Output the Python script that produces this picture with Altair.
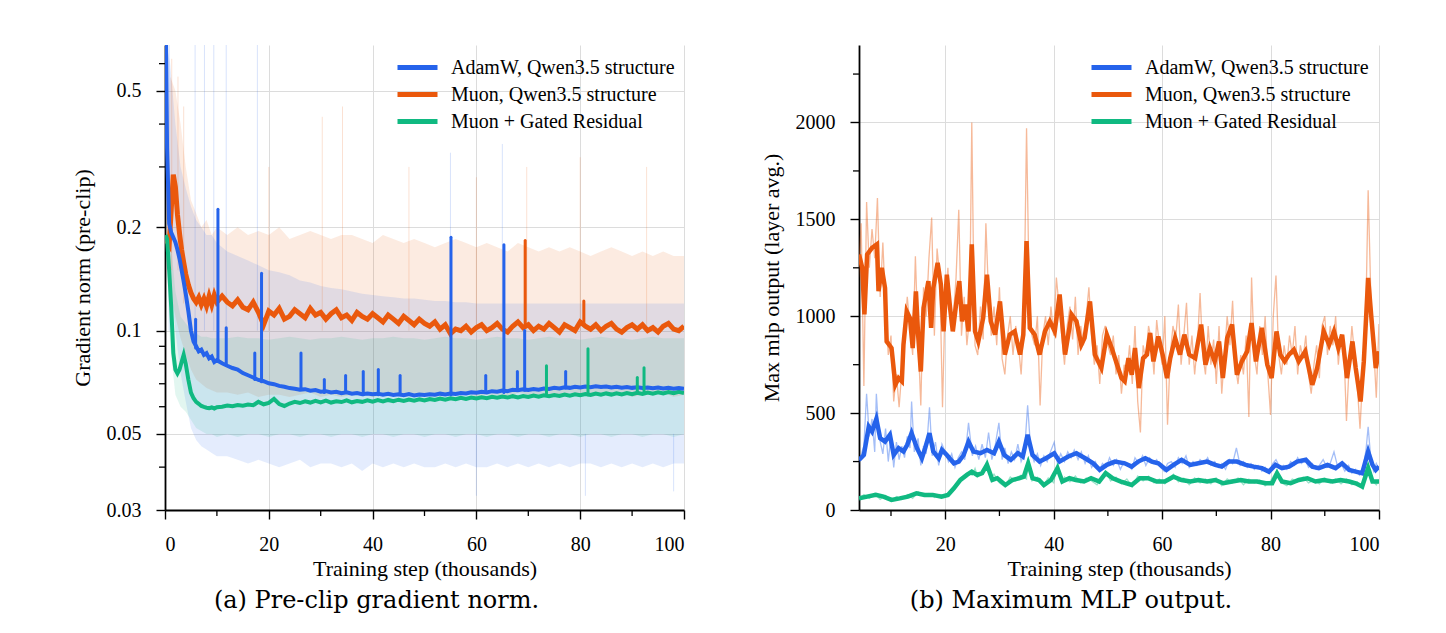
import altair as alt
import pandas as pd

SERIES = ["AdamW, Qwen3.5 structure", "Muon, Qwen3.5 structure", "Muon + Gated Residual"]
COLORS = ["#2563EB", "#EA580C", "#10B981"]

# ---------------- panel (a): pre-clip gradient norm (log scale) ----------------
A_STEP = [0.1, 0.4, 0.8, 1.2, 1.6, 2.0, 2.4, 2.8, 3.2, 3.6, 4.0, 4.5, 5.0, 5.5, 6.0, 6.5, 7.0, 7.5, 8.0, 8.5, 9.0, 9.5, 10.0,
          11, 12, 13, 14, 15, 16, 17, 18, 19, 20,
          21, 22, 23, 24, 25, 26, 27, 28, 29, 30,
          31, 32, 33, 34, 35, 36, 37, 38, 39, 40,
          41, 42, 43, 44, 45, 46, 47, 48, 49, 50,
          51, 52, 53, 54, 55, 56, 57, 58, 59, 60,
          61, 62, 63, 64, 65, 66, 67, 68, 69, 70,
          71, 72, 73, 74, 75, 76, 77, 78, 79, 80,
          81, 82, 83, 84, 85, 86, 87, 88, 89, 90,
          91, 92, 93, 94, 95, 96, 97, 98, 99, 100]

A_ADAMW = [0.95, 0.34, 0.205, 0.193, 0.187, 0.181, 0.172, 0.162, 0.150, 0.139, 0.128, 0.114, 0.100, 0.093, 0.090, 0.087, 0.088, 0.085, 0.086, 0.083, 0.084, 0.081, 0.082,
           0.0803, 0.0790, 0.0778, 0.0770, 0.0752, 0.0741, 0.0730, 0.0718, 0.0712, 0.0702,
           0.0698, 0.0690, 0.0686, 0.0680, 0.0677, 0.0673, 0.0675, 0.0668, 0.0671, 0.0664,
           0.0666, 0.0660, 0.0663, 0.0657, 0.0661, 0.0655, 0.0658, 0.0653, 0.0656, 0.0652,
           0.0655, 0.0650, 0.0654, 0.0649, 0.0652, 0.0648, 0.0653, 0.0647, 0.0651, 0.0649,
           0.0652, 0.0650, 0.0655, 0.0651, 0.0656, 0.0654, 0.0658, 0.0656, 0.0661, 0.0659,
           0.0663, 0.0660, 0.0666, 0.0664, 0.0669, 0.0666, 0.0672, 0.0670, 0.0674, 0.0671,
           0.0676, 0.0673, 0.0678, 0.0676, 0.0681, 0.0678, 0.0684, 0.0681, 0.0686, 0.0683,
           0.0687, 0.0684, 0.0688, 0.0685, 0.0687, 0.0683, 0.0686, 0.0682, 0.0685, 0.0681,
           0.0684, 0.0680, 0.0683, 0.0679, 0.0682, 0.0678, 0.0681, 0.0677, 0.0680, 0.0677]

A_MUON = [0.185, 0.182, 0.178, 0.225, 0.285, 0.262, 0.218, 0.192, 0.172, 0.158, 0.146, 0.136, 0.129, 0.124, 0.121, 0.125, 0.119, 0.124, 0.118, 0.126, 0.119, 0.127, 0.121,
          0.126, 0.121, 0.118, 0.123, 0.117, 0.115, 0.121, 0.113, 0.104, 0.114,
          0.111, 0.116, 0.108, 0.110, 0.115, 0.112, 0.109, 0.116, 0.111, 0.113,
          0.108, 0.112, 0.115, 0.109, 0.111, 0.107, 0.113, 0.110, 0.108, 0.112,
          0.109, 0.106, 0.111, 0.108, 0.105, 0.110, 0.107, 0.104, 0.108, 0.105,
          0.103, 0.106, 0.101, 0.104, 0.098, 0.101, 0.100, 0.103, 0.099, 0.102,
          0.104, 0.100, 0.102, 0.105, 0.101, 0.099, 0.103, 0.106, 0.102, 0.104,
          0.100, 0.103, 0.101, 0.105, 0.102, 0.099, 0.104, 0.102, 0.100, 0.106,
          0.103, 0.101, 0.104, 0.100, 0.103, 0.105, 0.101, 0.099, 0.102, 0.104,
          0.101, 0.104, 0.100, 0.102, 0.099, 0.103, 0.105, 0.101, 0.100, 0.103]

A_GATED = [0.19, 0.185, 0.15, 0.117, 0.086, 0.077, 0.075, 0.077, 0.081, 0.085, 0.080, 0.072, 0.066, 0.0635, 0.0620, 0.0612, 0.0603, 0.0599, 0.0596, 0.0594, 0.0597, 0.0593, 0.0598,
           0.0600, 0.0605, 0.0602, 0.0607, 0.0604, 0.0609, 0.0606, 0.0620, 0.0610, 0.0616,
           0.0632, 0.0611, 0.0603, 0.0613, 0.0620, 0.0615, 0.0622, 0.0617, 0.0624, 0.0618,
           0.0625, 0.0617, 0.0622, 0.0619, 0.0626, 0.0618, 0.0623, 0.0620, 0.0626, 0.0621,
           0.0627, 0.0622, 0.0628, 0.0623, 0.0629, 0.0624, 0.0630, 0.0625, 0.0631, 0.0626,
           0.0632, 0.0628, 0.0634, 0.0629, 0.0635, 0.0631, 0.0637, 0.0632, 0.0638, 0.0634,
           0.0639, 0.0635, 0.0641, 0.0637, 0.0642, 0.0638, 0.0644, 0.0639, 0.0645, 0.0641,
           0.0647, 0.0642, 0.0648, 0.0644, 0.0649, 0.0645, 0.0651, 0.0646, 0.0652, 0.0648,
           0.0653, 0.0649, 0.0655, 0.0650, 0.0656, 0.0651, 0.0657, 0.0652, 0.0658, 0.0653,
           0.0659, 0.0654, 0.0660, 0.0655, 0.0661, 0.0656, 0.0662, 0.0657, 0.0663, 0.0658]

# raw-noise envelopes (light shading behind the smoothed curves)
A_BAND_STEP = [0.3, 1, 2, 3, 4, 5, 6, 7, 8, 9, 10,
               12, 14, 16, 18, 20, 22, 24, 26, 28, 30,
               32, 34, 36, 38, 40, 42, 44, 46, 48, 50,
               52, 54, 56, 58, 60, 62, 64, 66, 68, 70,
               72, 74, 76, 78, 80, 82, 84, 86, 88, 90,
               92, 94, 96, 98, 100]
A_MUON_HI = [0.30, 0.55, 0.50, 0.40, 0.30, 0.24, 0.22, 0.20, 0.21, 0.19, 0.20,
             0.19, 0.20, 0.19, 0.195, 0.19, 0.20, 0.185, 0.19, 0.195, 0.19,
             0.185, 0.19, 0.19, 0.185, 0.18, 0.19, 0.185, 0.18, 0.185, 0.18,
             0.175, 0.18, 0.185, 0.18, 0.175, 0.18, 0.175, 0.17, 0.18, 0.175,
             0.17, 0.175, 0.17, 0.175, 0.17, 0.165, 0.17, 0.175, 0.17, 0.165,
             0.17, 0.165, 0.17, 0.165, 0.165]
A_MUON_LO = [0.16, 0.13, 0.11, 0.095, 0.085, 0.077, 0.072, 0.070, 0.068, 0.067, 0.066,
             0.066, 0.065, 0.066, 0.064, 0.065, 0.065, 0.064, 0.065, 0.066, 0.064,
             0.065, 0.064, 0.065, 0.065, 0.064, 0.065, 0.066, 0.064, 0.065, 0.065,
             0.064, 0.065, 0.065, 0.066, 0.064, 0.065, 0.065, 0.064, 0.066, 0.065,
             0.065, 0.064, 0.065, 0.066, 0.065, 0.064, 0.065, 0.065, 0.066, 0.064,
             0.065, 0.065, 0.066, 0.064, 0.065]
A_ADAMW_HI = [0.68, 0.60, 0.40, 0.30, 0.26, 0.23, 0.21, 0.20, 0.19, 0.19, 0.18,
              0.17, 0.165, 0.16, 0.155, 0.15, 0.148, 0.145, 0.14, 0.138, 0.135,
              0.133, 0.132, 0.13, 0.128, 0.127, 0.126, 0.125, 0.124, 0.124, 0.123,
              0.122, 0.122, 0.121, 0.121, 0.12, 0.12, 0.12, 0.12, 0.12, 0.12,
              0.12, 0.12, 0.12, 0.12, 0.12, 0.12, 0.12, 0.12, 0.12, 0.12,
              0.12, 0.12, 0.12, 0.12, 0.12]
A_ADAMW_LO = [0.30, 0.14, 0.10, 0.075, 0.062, 0.052, 0.048, 0.046, 0.045, 0.044, 0.043,
              0.043, 0.042, 0.041, 0.042, 0.041, 0.040, 0.041, 0.042, 0.040, 0.041,
              0.041, 0.040, 0.041, 0.039, 0.041, 0.040, 0.041, 0.040, 0.041, 0.040,
              0.040, 0.041, 0.040, 0.041, 0.040, 0.040, 0.041, 0.040, 0.041, 0.040,
              0.041, 0.040, 0.041, 0.040, 0.041, 0.041, 0.040, 0.041, 0.040, 0.041,
              0.040, 0.041, 0.040, 0.041, 0.041]
A_GATED_HI = [0.20, 0.19, 0.13, 0.11, 0.105, 0.10, 0.098, 0.096, 0.096, 0.095, 0.095,
              0.095, 0.096, 0.095, 0.095, 0.094, 0.095, 0.096, 0.095, 0.094, 0.095,
              0.095, 0.096, 0.095, 0.094, 0.095, 0.095, 0.096, 0.095, 0.095, 0.094,
              0.095, 0.096, 0.095, 0.095, 0.094, 0.095, 0.096, 0.095, 0.095, 0.094,
              0.095, 0.096, 0.095, 0.095, 0.094, 0.095, 0.096, 0.095, 0.095, 0.094,
              0.095, 0.096, 0.095, 0.095, 0.095]
A_GATED_LO = [0.17, 0.09, 0.065, 0.060, 0.058, 0.055, 0.052, 0.051, 0.050, 0.050, 0.049,
              0.050, 0.049, 0.050, 0.050, 0.049, 0.050, 0.050, 0.049, 0.050, 0.050,
              0.049, 0.050, 0.050, 0.049, 0.050, 0.050, 0.049, 0.050, 0.050, 0.049,
              0.050, 0.050, 0.049, 0.050, 0.050, 0.049, 0.050, 0.050, 0.049, 0.050,
              0.050, 0.049, 0.050, 0.050, 0.049, 0.050, 0.050, 0.049, 0.050, 0.050,
              0.049, 0.050, 0.050, 0.049, 0.050]

# isolated spikes on the smoothed curves: (step, base, peak)
A_ADAMW_SPIKES = [(5.9, 0.089, 0.108), (10.2, 0.082, 0.226), (11.8, 0.080, 0.102), (17.3, 0.072, 0.086),
                  (18.6, 0.071, 0.147), (26.2, 0.068, 0.086), (30.7, 0.066, 0.072), (34.8, 0.066, 0.074),
                  (38.2, 0.065, 0.076), (41.1, 0.065, 0.077), (45.3, 0.065, 0.074), (55.1, 0.065, 0.187),
                  (61.8, 0.066, 0.074), (65.3, 0.066, 0.178), (67.9, 0.067, 0.076), (69.3, 0.067, 0.100),
                  (77.2, 0.068, 0.076)]
A_MUON_SPIKES = [(69.4, 0.104, 0.183), (80.7, 0.104, 0.122)]
A_GATED_SPIKES = [(73.5, 0.065, 0.079), (81.5, 0.065, 0.0886), (91.0, 0.066, 0.073), (92.3, 0.066, 0.078)]

# faint raw outliers: (step, low, high)
A_MUON_RAW_OUT = [(1.3, 0.15, 0.62), (2.5, 0.15, 0.55), (3.6, 0.12, 0.45), (20.0, 0.1, 0.30), (30.3, 0.1, 0.42),
                  (34.2, 0.1, 0.45), (47.0, 0.1, 0.30), (60.0, 0.1, 0.28), (69.7, 0.1, 0.30), (80.0, 0.1, 0.32),
                  (92.8, 0.1, 0.30)]
A_ADAMW_RAW_OUT = [(0.8, 0.1, 0.68), (5.8, 0.1, 0.68), (7.6, 0.1, 0.68), (9.4, 0.1, 0.68), (11.8, 0.1, 0.68),
                   (17.8, 0.1, 0.68), (55.0, 0.1, 0.33), (65.0, 0.1, 0.35), (60.0, 0.033, 0.05),
                   (81.0, 0.033, 0.05), (98.0, 0.034, 0.05)]

# ---------------- panel (b): maximum MLP output ----------------
B_MUON = [(4.1, 1319), (4.7, 1250), (5.1, 1009), (5.6, 1319), (6.5, 1353), (7.4, 1371), (7.7, 1129), (8.3, 1250),
          (8.9, 1146), (9.2, 870), (10.1, 836), (10.8, 646), (11.4, 681), (12.0, 664), (12.3, 853), (12.9, 1026),
          (13.5, 991), (14.0, 836), (14.6, 1129), (15.0, 905), (15.5, 715), (16.0, 1043), (16.9, 1181), (17.4, 940),
          (17.8, 1146), (18.6, 1276), (19.2, 1164), (19.7, 922), (20.3, 1215), (20.9, 1043), (21.4, 922), (22.0, 1060),
          (22.6, 1181), (23.1, 974), (23.7, 1060), (24.3, 922), (24.9, 1371), (25.5, 922), (26.1, 870), (27.0, 991),
          (27.7, 1215), (28.4, 974), (29.2, 905), (30.1, 1077), (31.0, 802), (31.9, 905), (32.8, 922), (33.8, 802),
          (34.4, 905), (35.0, 1388), (35.6, 940), (36.5, 905), (37.4, 802), (38.4, 922), (39.3, 974), (40.2, 922),
          (41.1, 1112), (42.1, 802), (43.3, 1009), (44.2, 974), (45.1, 853), (45.7, 888), (46.7, 1077), (47.6, 802),
          (48.8, 733), (49.8, 905), (50.7, 836), (51.7, 750), (52.5, 681), (53.1, 664), (53.8, 784), (54.4, 698),
          (55.0, 836), (55.7, 629), (56.5, 784), (57.2, 802), (57.8, 914), (58.4, 767), (59.3, 896), (60.1, 802),
          (60.9, 681), (61.5, 784), (62.4, 888), (63.3, 802), (64.1, 905), (65.0, 802), (66.1, 784), (67.2, 957),
          (68.0, 750), (68.8, 836), (69.7, 767), (70.5, 870), (71.2, 681), (72.0, 888), (72.9, 957), (73.8, 698),
          (74.7, 767), (75.7, 819), (76.5, 965), (77.3, 767), (78.4, 940), (79.4, 750), (80.2, 681), (81.1, 922),
          (81.8, 802), (82.6, 767), (83.4, 802), (84.3, 827), (85.2, 767), (86.4, 819), (87.7, 646), (88.6, 733),
          (89.8, 922), (90.8, 853), (91.7, 922), (92.5, 836), (93.2, 905), (94.1, 681), (95.1, 870), (95.7, 733),
          (96.6, 560), (97.2, 767), (98.0, 1198), (98.6, 991), (99.4, 733), (100.0, 819)]

B_ADAMW = [(4.1, 259), (5.0, 284), (5.9, 430), (6.5, 405), (7.3, 470), (8.0, 371), (8.9, 353), (9.8, 388),
           (10.5, 284), (11.4, 319), (12.3, 302), (13.0, 336), (13.8, 397), (14.8, 319), (15.7, 267), (16.3, 319),
           (17.1, 397), (17.8, 302), (18.8, 267), (19.4, 310), (20.3, 284), (21.6, 241), (22.5, 250), (23.4, 284),
           (24.3, 353), (25.2, 302), (26.5, 293), (27.7, 310), (29.0, 293), (29.9, 353), (30.9, 284), (32.1, 259),
           (33.4, 293), (34.3, 276), (35.2, 388), (36.1, 284), (37.4, 250), (38.6, 267), (40.1, 293), (41.1, 250),
           (42.7, 276), (44.2, 293), (45.8, 267), (47.3, 241), (48.5, 207), (49.8, 233), (51.3, 250), (53.1, 241),
           (54.4, 224), (55.6, 250), (56.9, 267), (58.1, 250), (59.3, 241), (60.8, 207), (62.1, 233), (63.6, 259),
           (65.2, 233), (66.7, 241), (68.3, 250), (69.8, 233), (71.0, 224), (72.3, 250), (73.8, 250), (75.4, 233),
           (76.9, 224), (78.4, 216), (79.7, 198), (80.9, 233), (82.1, 216), (83.4, 224), (84.9, 250), (86.5, 259),
           (87.7, 224), (88.9, 216), (90.5, 233), (92.0, 216), (93.2, 241), (94.5, 207), (95.7, 198), (96.9, 190),
           (98.0, 302), (98.8, 233), (99.4, 207), (100.0, 224)]

B_GATED = [(4.1, 60), (5.6, 69), (7.2, 78), (8.6, 69), (10.1, 52), (11.6, 60), (13.1, 69), (14.7, 86), (16.2, 78),
           (17.7, 78), (19.3, 69), (20.5, 78), (21.6, 112), (22.8, 155), (24.0, 181), (24.9, 198), (25.9, 181),
           (26.8, 190), (27.7, 233), (28.7, 155), (29.6, 164), (31.1, 129), (32.4, 155), (33.6, 164), (34.5, 172),
           (35.3, 241), (36.1, 164), (37.3, 155), (38.2, 129), (39.5, 155), (40.7, 216), (41.6, 147), (42.9, 164),
           (44.1, 155), (45.6, 147), (46.9, 164), (48.4, 147), (49.6, 190), (50.9, 164), (52.4, 147), (54.4, 129),
           (55.9, 164), (57.4, 164), (59.0, 147), (60.5, 147), (62.1, 172), (63.6, 155), (65.2, 147), (66.7, 155),
           (68.3, 147), (69.8, 155), (71.3, 138), (72.9, 147), (74.5, 155), (76.0, 147), (77.5, 147), (79.1, 138),
           (80.3, 138), (81.2, 190), (82.1, 147), (83.7, 138), (85.2, 155), (86.8, 164), (88.3, 147), (89.8, 155),
           (91.4, 147), (92.9, 155), (94.5, 147), (95.7, 138), (96.9, 121), (98.0, 216), (98.8, 147), (100.0, 147)]

B_MUON_RAW = [(4.0, 1200), (4.5, 1480), (5.0, 640), (5.5, 1590), (6.0, 1250), (6.5, 1450), (7.0, 1300), (7.5, 1610),
              (8.0, 1100), (8.5, 1380), (9.0, 1050), (9.5, 800), (10.0, 900), (10.5, 560), (11.0, 700), (11.5, 530),
              (12.0, 720), (12.5, 900), (13.0, 1100), (13.5, 950), (14.0, 800), (14.5, 1310), (15.0, 880), (15.5, 540),
              (16.0, 1150), (16.5, 1000), (17.0, 1300), (17.5, 1510), (18.0, 900), (18.5, 1350), (19.0, 1200), (19.5, 530),
              (20.0, 1100), (20.5, 1250), (21.0, 950), (21.5, 1000), (22.0, 1200), (22.5, 1550), (23.0, 900), (23.5, 1100),
              (24.0, 850), (24.5, 1000), (24.9, 2000), (25.3, 1100), (25.5, 850), (26.0, 800), (26.5, 1050), (27.0, 880),
              (27.5, 1480), (28.0, 1100), (28.5, 900), (29.0, 1050), (29.5, 850), (30.0, 1150), (30.5, 780), (31.0, 700),
              (31.5, 900), (32.0, 1000), (32.5, 800), (33.0, 950), (33.5, 850), (34.0, 700), (34.5, 950), (35.0, 1970),
              (35.5, 1100), (36.0, 900), (36.5, 850), (37.0, 1000), (37.5, 540), (38.0, 900), (38.5, 1000), (39.0, 850),
              (39.5, 1050), (40.0, 900), (40.5, 1200), (41.0, 1050), (41.5, 900), (42.0, 750), (42.5, 950), (43.0, 1050),
              (43.5, 880), (44.0, 1100), (44.5, 800), (45.0, 950), (45.5, 850), (46.0, 1000), (46.5, 1150), (47.0, 900),
              (47.5, 750), (48.0, 850), (48.5, 650), (49.0, 900), (49.5, 950), (50.0, 850), (50.5, 800), (51.0, 900),
              (51.5, 700), (52.0, 800), (52.5, 600), (53.0, 750), (53.5, 700), (54.0, 850), (54.5, 650), (55.0, 950),
              (55.5, 560), (56.0, 400), (56.5, 850), (57.0, 780), (57.5, 950), (58.0, 880), (58.5, 700), (59.0, 980),
              (59.5, 850), (60.0, 750), (60.5, 1000), (61.0, 440), (61.5, 800), (62.0, 950), (62.5, 880), (63.0, 1060),
              (63.5, 750), (64.0, 900), (64.5, 1070), (65.0, 750), (65.5, 900), (66.0, 700), (66.5, 850), (67.0, 1120),
              (67.5, 800), (68.0, 700), (68.5, 950), (69.0, 750), (69.5, 880), (70.0, 650), (70.5, 950), (71.0, 600),
              (71.5, 800), (72.0, 1000), (72.5, 850), (73.0, 1080), (73.5, 750), (74.0, 650), (74.5, 800), (75.0, 700),
              (75.5, 900), (76.0, 480), (76.5, 1200), (77.0, 800), (77.5, 700), (78.0, 950), (78.5, 800), (79.0, 1000),
              (79.5, 700), (80.0, 490), (80.5, 1000), (81.0, 1210), (81.5, 800), (82.0, 700), (82.5, 850), (83.0, 750),
              (83.5, 900), (84.0, 800), (84.5, 950), (85.0, 700), (85.5, 850), (86.0, 780), (86.5, 900), (87.0, 700),
              (87.5, 600), (88.0, 750), (88.5, 850), (89.0, 680), (89.5, 950), (90.0, 1000), (90.5, 800), (91.0, 950),
              (91.5, 850), (92.0, 1000), (92.5, 750), (93.0, 900), (93.5, 850), (94.0, 460), (94.5, 750), (95.0, 950),
              (95.5, 800), (96.0, 640), (96.5, 420), (97.0, 700), (97.5, 900), (98.0, 1650), (98.5, 1100), (99.0, 850),
              (99.5, 580), (100.0, 960)]

B_ADAMW_RAW = [(4.0, 240), (5.0, 330), (5.5, 600), (6.0, 380), (6.5, 470), (7.0, 300), (7.3, 600), (7.8, 380),
               (8.5, 290), (9.0, 420), (9.5, 250), (10.0, 390), (10.5, 220), (11.0, 350), (11.5, 260), (12.0, 330),
               (12.5, 270), (13.0, 380), (13.5, 320), (13.8, 560), (14.3, 300), (15.0, 370), (15.5, 230), (16.0, 330),
               (16.5, 290), (17.1, 530), (17.6, 280), (18.2, 350), (18.8, 230), (19.4, 340), (20.0, 300), (20.6, 250),
               (21.2, 290), (21.8, 220), (22.4, 270), (23.0, 300), (23.6, 260), (24.3, 450), (25.0, 280), (25.6, 330),
               (26.2, 260), (26.8, 340), (27.4, 270), (28.0, 400), (28.6, 260), (29.2, 330), (29.9, 450), (30.5, 260),
               (31.0, 320), (31.6, 240), (32.2, 300), (32.8, 260), (33.4, 340), (34.0, 250), (34.6, 290), (35.2, 540),
               (35.8, 300), (36.4, 250), (37.0, 290), (37.6, 230), (38.2, 280), (38.8, 250), (39.4, 300), (40.1, 350),
               (40.7, 240), (41.3, 290), (42.0, 250), (42.6, 300), (43.2, 270), (43.8, 310), (44.5, 260), (45.1, 300),
               (45.8, 240), (46.4, 280), (47.0, 220), (47.7, 250), (48.4, 200), (49.0, 240), (49.7, 220), (50.3, 270),
               (51.0, 230), (51.6, 260), (52.3, 210), (53.0, 250), (53.7, 230), (54.4, 210), (55.0, 270), (55.7, 240),
               (56.4, 280), (57.0, 230), (57.7, 270), (58.4, 240), (59.0, 260), (59.7, 220), (60.4, 200), (61.0, 240),
               (61.7, 250), (62.4, 220), (63.0, 270), (63.7, 240), (64.4, 280), (65.0, 220), (65.7, 250), (66.4, 230),
               (67.0, 260), (67.7, 240), (68.4, 270), (69.0, 230), (69.7, 250), (70.4, 220), (71.0, 240), (71.7, 210),
               (72.4, 260), (73.0, 240), (73.7, 320), (74.4, 230), (75.0, 250), (75.7, 220), (76.4, 240), (77.0, 210),
               (77.7, 230), (78.4, 200), (79.0, 220), (79.7, 190), (80.4, 240), (81.0, 260), (81.7, 220), (82.4, 230),
               (83.0, 210), (83.7, 250), (84.4, 230), (85.0, 270), (85.7, 240), (86.4, 260), (87.0, 220), (87.7, 240),
               (88.4, 210), (89.0, 230), (89.7, 260), (90.4, 220), (91.0, 240), (91.7, 300), (92.4, 220), (93.0, 240),
               (93.7, 200), (94.4, 230), (95.0, 190), (95.7, 210), (96.4, 180), (97.0, 200), (97.6, 310), (98.0, 430),
               (98.5, 260), (99.0, 200), (99.5, 240), (100.0, 210)]

B_GATED_RAW = [(4.0, 55), (5.0, 80), (6.0, 60), (7.0, 85), (8.0, 55), (9.0, 75), (10.0, 45), (11.0, 70), (12.0, 55),
               (13.0, 80), (14.0, 60), (15.0, 95), (16.0, 70), (17.0, 85), (18.0, 65), (19.0, 80), (20.0, 70), (21.0, 95),
               (22.0, 130), (23.0, 165), (24.0, 190), (25.0, 180), (25.5, 215), (26.0, 170), (27.0, 200), (27.7, 255),
               (28.3, 160), (29.0, 185), (30.0, 140), (31.0, 120), (32.0, 170), (33.0, 150), (34.0, 180), (35.0, 160),
               (35.3, 270), (36.0, 150), (37.0, 170), (38.0, 125), (39.0, 165), (40.0, 140), (40.7, 240), (41.5, 140),
               (42.0, 170), (43.0, 145), (44.0, 175), (45.0, 140), (46.0, 165), (47.0, 150), (48.0, 130), (49.0, 175),
               (49.6, 200), (50.5, 150), (51.5, 170), (52.5, 135), (53.5, 160), (54.5, 120), (55.5, 175), (56.5, 150),
               (57.5, 175), (58.5, 140), (59.5, 160), (60.5, 135), (61.5, 170), (62.1, 185), (63.0, 145), (64.0, 165),
               (65.0, 130), (66.0, 165), (67.0, 140), (68.0, 160), (69.0, 135), (70.0, 165), (71.0, 125), (72.0, 160),
               (73.0, 140), (74.0, 165), (75.0, 130), (76.0, 160), (77.0, 140), (78.0, 155), (79.0, 125), (80.0, 150),
               (81.2, 205), (82.0, 140), (83.0, 125), (84.0, 160), (85.0, 145), (86.0, 170), (87.0, 140), (88.0, 155),
               (89.0, 135), (90.0, 165), (91.0, 140), (92.0, 160), (93.0, 135), (94.0, 160), (95.0, 130), (96.0, 145),
               (97.0, 110), (98.0, 240), (98.8, 150), (99.5, 130), (100.0, 155)]

# ---------------- styling ----------------
SERIF = "Liberation Serif"
W_A, W_B, H = 519, 520, 465

color_scale = alt.Scale(domain=SERIES, range=COLORS)
legend = alt.Legend(title=None, orient="none", legendX=230, legendY=9, symbolType="stroke",
                    symbolStrokeWidth=5, symbolSize=1600, symbolOpacity=1, labelFont=SERIF,
                    labelFontSize=20, labelColor="black", labelOffset=11, rowPadding=0, padding=0,
                    labelLimit=500, clipHeight=27)
color_enc = alt.Color("series:N", scale=color_scale, legend=legend)


def series_df(steps, values, name):
    return pd.DataFrame({"step": steps, "v": values, "series": name})


def pairs_df(pairs, name):
    return pd.DataFrame({"step": [p[0] for p in pairs], "v": [p[1] for p in pairs], "series": name})


CAPTION = dict(orient="bottom", anchor="middle", font="DejaVu Serif", fontSize=24, fontWeight="normal",
               color="black", offset=10, dx=-48)

# ---------- panel (a) ----------
xa = alt.X("step:Q", scale=alt.Scale(domain=[0, 100], nice=False),
           axis=alt.Axis(values=[0, 20, 40, 60, 80, 100], format="d", title="Training step (thousands)"))
ya = alt.Y("v:Q", scale=alt.Scale(type="log", domain=[0.03, 0.68], nice=False),
           axis=alt.Axis(values=[0.03, 0.05, 0.1, 0.2, 0.5], format="~g", title="Gradient norm (pre-clip)"))

layers_a = []
for name, col, lo, hi in [(SERIES[1], COLORS[1], A_MUON_LO, A_MUON_HI),
                          (SERIES[0], COLORS[0], A_ADAMW_LO, A_ADAMW_HI),
                          (SERIES[2], COLORS[2], A_GATED_LO, A_GATED_HI)]:
    df = pd.DataFrame({"step": A_BAND_STEP, "v": lo, "v2": hi})
    layers_a.append(alt.Chart(df).mark_area(color=col, opacity=0.12, clip=True, interpolate="linear")
                    .encode(x=xa, y=ya, y2="v2:Q"))

for col, outs in [(COLORS[1], A_MUON_RAW_OUT), (COLORS[0], A_ADAMW_RAW_OUT)]:
    df = pd.DataFrame({"step": [o[0] for o in outs], "v": [o[1] for o in outs], "v2": [o[2] for o in outs]})
    layers_a.append(alt.Chart(df).mark_rule(color=col, opacity=0.18, strokeWidth=1, clip=True)
                    .encode(x=xa, y=ya, y2="v2:Q"))

for name, vals, sw in [(SERIES[1], A_MUON, 5), (SERIES[2], A_GATED, 4), (SERIES[0], A_ADAMW, 4)]:
    layers_a.append(alt.Chart(series_df(A_STEP, vals, name)).mark_line(strokeWidth=sw, clip=True)
                    .encode(x=xa, y=ya, color=color_enc))

for col, spikes in [(COLORS[1], A_MUON_SPIKES), (COLORS[2], A_GATED_SPIKES), (COLORS[0], A_ADAMW_SPIKES)]:
    df = pd.DataFrame({"step": [s[0] for s in spikes], "v": [s[1] for s in spikes], "v2": [s[2] for s in spikes]})
    layers_a.append(alt.Chart(df).mark_rule(color=col, strokeWidth=3, strokeCap="round", clip=True)
                    .encode(x=xa, y=ya, y2="v2:Q"))

# minor ticks
A_MINOR_X = [10, 30, 50, 70, 90]
A_MINOR_Y = [0.04, 0.06, 0.07, 0.08, 0.09, 0.3, 0.4, 0.6]
layers_a.append(alt.Chart(pd.DataFrame({"step": A_MINOR_X})).mark_rule(color="black", strokeWidth=1.3)
                .encode(x=xa, y=alt.value(H), y2=alt.value(H + 6)))
layers_a.append(alt.Chart(pd.DataFrame({"v": A_MINOR_Y})).mark_rule(color="black", strokeWidth=1.3)
                .encode(y=ya, x=alt.value(0), x2=alt.value(-6)))

chart_a = alt.layer(*layers_a).properties(
    width=W_A, height=H, title=alt.TitleParams("(a) Pre-clip gradient norm.", **CAPTION))

# ---------- panel (b) ----------
xb = alt.X("step:Q", scale=alt.Scale(domain=[4.1, 100], nice=False),
           axis=alt.Axis(values=[20, 40, 60, 80, 100], format="d", title="Training step (thousands)"))
yb = alt.Y("v:Q", scale=alt.Scale(domain=[0, 2400], nice=False),
           axis=alt.Axis(values=[0, 500, 1000, 1500, 2000], format="d", title="Max mlp output (layer avg.)"))

layers_b = []
for col, raw in [(COLORS[1], B_MUON_RAW), (COLORS[0], B_ADAMW_RAW), (COLORS[2], B_GATED_RAW)]:
    layers_b.append(alt.Chart(pairs_df(raw, "raw")).mark_line(color=col, strokeWidth=1.3, opacity=0.42, clip=True)
                    .encode(x=xb, y=yb))
for name, pairs in [(SERIES[1], B_MUON), (SERIES[0], B_ADAMW), (SERIES[2], B_GATED)]:
    layers_b.append(alt.Chart(pairs_df(pairs, name)).mark_line(strokeWidth=4.5, clip=True)
                    .encode(x=xb, y=yb, color=color_enc))

B_MINOR_X = [10, 30, 50, 70, 90]
B_MINOR_Y = [250, 750, 1250, 1750, 2250]
layers_b.append(alt.Chart(pd.DataFrame({"step": B_MINOR_X})).mark_rule(color="black", strokeWidth=1.3)
                .encode(x=xb, y=alt.value(H), y2=alt.value(H + 6)))
layers_b.append(alt.Chart(pd.DataFrame({"v": B_MINOR_Y})).mark_rule(color="black", strokeWidth=1.3)
                .encode(y=yb, x=alt.value(0), x2=alt.value(-6)))

chart_b = alt.layer(*layers_b).properties(
    width=W_B, height=H, title=alt.TitleParams("(b) Maximum MLP output.", **CAPTION))

chart = alt.hconcat(chart_a, chart_b, spacing=73).resolve_scale(color="independent").resolve_legend(
    color="independent").properties(
    padding={"left": 62, "top": 36, "right": 0, "bottom": 0},
    background="white"
).configure_axis(
    domainColor="black", domainWidth=1.8, tickColor="black", tickWidth=1.4, tickSize=9,
    labelFont=SERIF, labelFontSize=20, labelColor="black", labelPadding=15,
    titleFont=SERIF, titleFontSize=22, titleFontWeight="normal", titleColor="black",
    gridColor="#dcdcdc", gridWidth=1
).configure_axisX(titlePadding=4).configure_axisY(titlePadding=12).configure_legend(
    labelFont=SERIF, labelFontSize=20, labelColor="black", rowPadding=0, labelLimit=500,
    symbolType="stroke", symbolStrokeWidth=5, symbolSize=1600, labelOffset=11, clipHeight=27
).configure_view(
    stroke="transparent"
)

chart.save("out.html", embed_options={"renderer": "svg", "actions": False})
